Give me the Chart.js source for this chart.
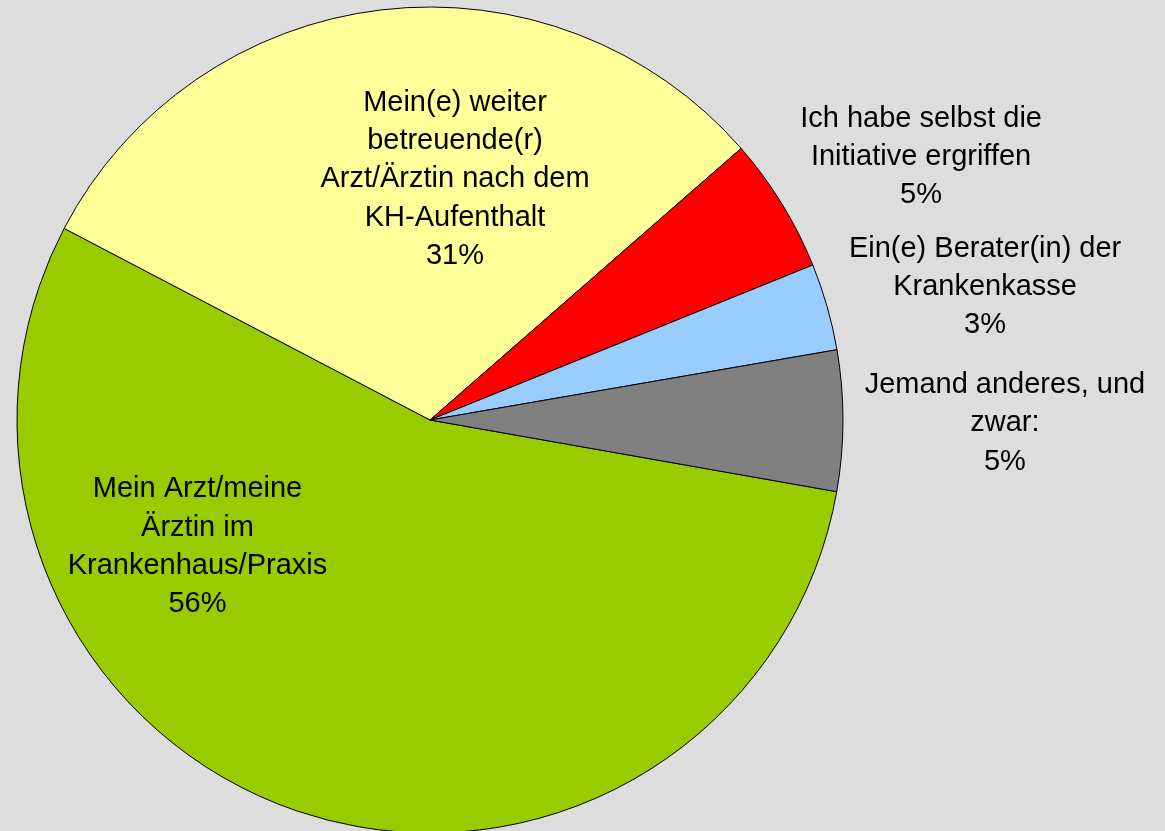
<!DOCTYPE html>
<html>
<head>
<meta charset="utf-8">
<script src="https://cdn.jsdelivr.net/npm/chart.js@4"></script>
<style>
  html, body { margin: 0; padding: 0; background: #dddddd; }
  #wrap { width: 1165px; height: 831px; position: relative; }
</style>
</head>
<body>
<div id="wrap"><canvas id="kuchen"></canvas></div>
<script>
// Wer hat Sie auf das Angebot aufmerksam gemacht?
const kategorien = [
  ['Mein Arzt/meine', 'Ärztin im', 'Krankenhaus/Praxis'],
  ['Mein(e) weiter', 'betreuende(r)', 'Arzt/Ärztin nach dem', 'KH-Aufenthalt'],
  ['Ich habe selbst die', 'Initiative ergriffen'],
  ['Ein(e) Berater(in) der', 'Krankenkasse'],
  ['Jemand anderes, und', 'zwar:']
];
const anteile = [54.9, 30.9, 5.3, 3.4, 5.5];
const prozentText = ['56%', '31%', '5%', '3%', '5%'];
const farben = ['#99cc00', '#ffff99', '#ff0000', '#99ccff', '#808080'];

// Lage der Beschriftungen relativ zu Mittelpunkt und Radius
const labelLage = [
  [-0.563, 0.187],
  [0.0605, -0.749],
  [1.189, -0.710],
  [1.344, -0.395],
  [1.392, -0.065]
];

const beschriftung = {
  id: 'beschriftung',
  afterDatasetsDraw(chart) {
    const ctx = chart.ctx;
    const meta = chart.getDatasetMeta(0);
    ctx.save();
    ctx.font = '29px "Liberation Sans", Arial, sans-serif';
    ctx.fillStyle = '#000000';
    ctx.textAlign = 'center';
    ctx.textBaseline = 'alphabetic';
    meta.data.forEach((arc, i) => {
      const r = arc.outerRadius;
      const x = arc.x + labelLage[i][0] * r;
      const y0 = arc.y + labelLage[i][1] * r;
      const zeilen = kategorien[i].concat([prozentText[i]]);
      zeilen.forEach((z, k) => ctx.fillText(z, x, y0 + k * 38.3));
    });
    ctx.restore();
  }
};

const kuchen = document.getElementById('kuchen');

new Chart(kuchen, {
  type: 'pie',
  data: {
    labels: kategorien,
    datasets: [{
      data: anteile,
      backgroundColor: farben,
      borderColor: '#000000',
      borderWidth: 1,
      radius: 413,
      clip: false
    }]
  },
  options: {
    responsive: true,
    maintainAspectRatio: false,
    animation: false,
    rotation: 100,
    layout: {
      padding: { left: 19, right: 324, top: 9, bottom: 0 }
    },
    plugins: {
      legend: { display: false },
      tooltip: { enabled: false }
    }
  },
  plugins: [beschriftung]
});
</script>
</body>
</html>
